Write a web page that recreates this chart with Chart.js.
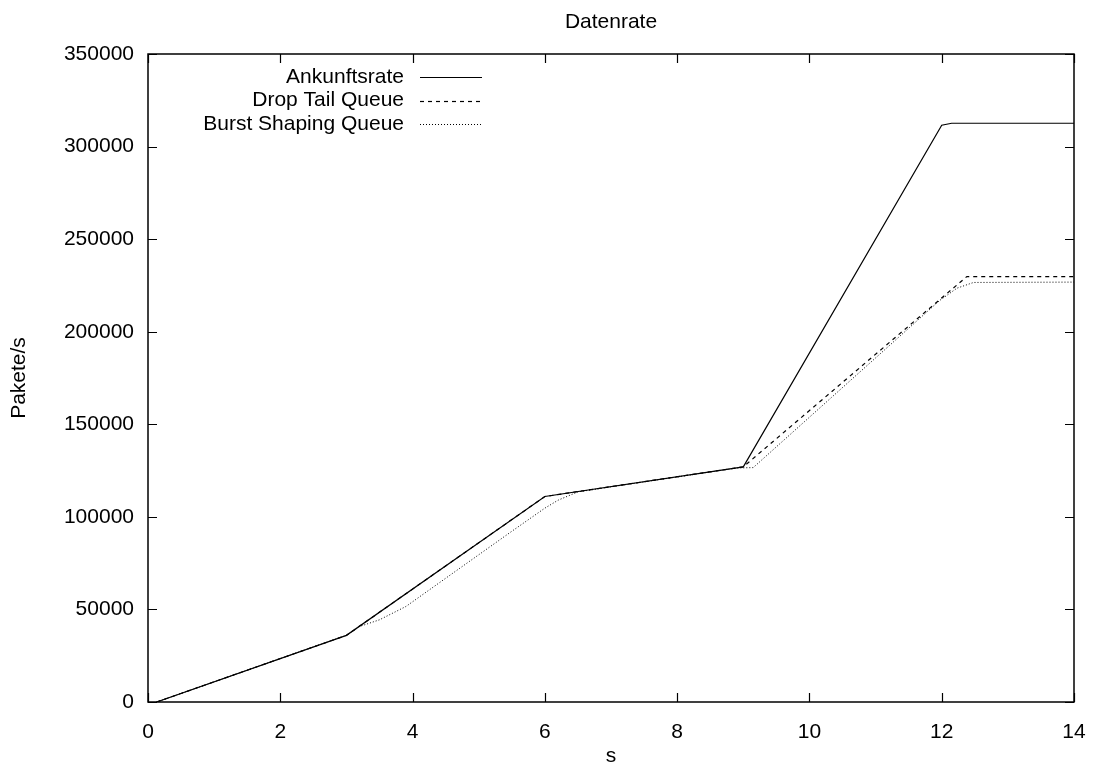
<!DOCTYPE html>
<html>
<head>
<meta charset="utf-8">
<script src="https://cdn.jsdelivr.net/npm/chart.js@4/dist/chart.umd.min.js"></script>
<style>
    body { margin: 0; background: #fff; }
    #wrap { width: 1095px; height: 768px; }
</style>
</head>
<body>
<div id="wrap"><canvas id="chart" width="1095" height="768"></canvas></div>
<script>
// Values (time in s, rate in Pakete/s)
const arrivalTime = [0.13, 3, 6, 9, 12, 12.15, 14];
const arrivalRate = [0, 36000, 111000, 127000, 311500, 312600, 312600];

const dropTailTime = [0.13, 3, 6, 9, 12.38, 14];
const dropTailRate = [0, 36000, 111000, 127000, 229800, 229800];

const burstTime = [0.13, 3, 3.2, 3.5, 3.9, 5.5, 6.0, 6.2, 6.5, 8.9, 9.15, 11.97, 12.23, 12.48, 14];
const burstRate = [0, 36000, 40800, 44400, 51600, 92200, 104700, 109000, 113500, 126400, 126600, 216900, 223500, 226600, 226800];

const seriesNames = ['Ankunftsrate', 'Drop Tail Queue', 'Burst Shaping Queue'];
const xTicks = [0, 2, 4, 6, 8, 10, 12, 14];
const yTicks = [0, 50000, 100000, 150000, 200000, 250000, 300000, 350000];

const FONT = '"Liberation Sans", Arial, Helvetica, sans-serif';
const FONT_SIZE = 21;
const TICK_LEN = 9;

function toPoints(xs, ys) {
    return xs.map((x, i) => ({ x: x, y: ys[i] }));
}

// Gnuplot-like frame: full border with inward ticks on all four sides,
// plus the title and the key in the upper left corner
const gnuplotFrame = {
    id: 'gnuplotFrame',
    afterDraw(chart) {
        const ctx = chart.ctx;
        const a = chart.chartArea;
        const sx = chart.scales.x;
        const sy = chart.scales.y;

        ctx.save();
        ctx.strokeStyle = '#000';
        ctx.lineWidth = 1.5;
        ctx.strokeRect(a.left, a.top, a.right - a.left, a.bottom - a.top);

        ctx.beginPath();
        xTicks.forEach(v => {
            const px = Math.round(sx.getPixelForValue(v)) + 0.5;
            ctx.moveTo(px, a.bottom);
            ctx.lineTo(px, a.bottom - TICK_LEN);
            ctx.moveTo(px, a.top);
            ctx.lineTo(px, a.top + TICK_LEN);
        });
        yTicks.forEach(v => {
            const py = Math.round(sy.getPixelForValue(v)) + 0.5;
            ctx.moveTo(a.left, py);
            ctx.lineTo(a.left + TICK_LEN, py);
            ctx.moveTo(a.right, py);
            ctx.lineTo(a.right - TICK_LEN, py);
        });
        ctx.lineWidth = 1.2;
        ctx.stroke();

        // title
        ctx.fillStyle = '#000';
        ctx.font = FONT_SIZE + 'px ' + FONT;
        ctx.textAlign = 'center';
        ctx.textBaseline = 'middle';
        ctx.fillText('Datenrate', (a.left + a.right) / 2, 22);

        // key
        const textRight = 404;
        const sampleLeft = 420;
        const sampleRight = 482;
        ctx.textAlign = 'right';
        chart.data.datasets.forEach((ds, i) => {
            const rowY = 77 + i * 23.5;
            ctx.fillText(ds.label, textRight, rowY);
            ctx.beginPath();
            ctx.setLineDash(ds.borderDash || []);
            ctx.lineWidth = ds.borderWidth;
            ctx.strokeStyle = ds.borderColor;
            ctx.moveTo(sampleLeft, Math.round(rowY) + 0.5);
            ctx.lineTo(sampleRight, Math.round(rowY) + 0.5);
            ctx.stroke();
        });
        ctx.restore();
    }
};

const ctx = document.getElementById('chart').getContext('2d');

new Chart(ctx, {
    type: 'line',
    data: {
        datasets: [{
            label: seriesNames[0],
            data: toPoints(arrivalTime, arrivalRate),
            borderColor: '#000',
            borderWidth: 1.2,
            borderDash: [],
            pointRadius: 0,
            tension: 0
        }, {
            label: seriesNames[1],
            data: toPoints(dropTailTime, dropTailRate),
            borderColor: '#000',
            borderWidth: 1.2,
            borderDash: [4, 4],
            pointRadius: 0,
            tension: 0
        }, {
            label: seriesNames[2],
            data: toPoints(burstTime, burstRate),
            borderColor: '#000',
            borderWidth: 1,
            borderDash: [1, 2],
            pointRadius: 0,
            tension: 0
        }]
    },
    options: {
        responsive: false,
        animation: false,
        devicePixelRatio: 1,
        layout: {
            padding: { top: 54, right: 21, left: 0, bottom: 0 }
        },
        plugins: {
            legend: { display: false },
            tooltip: { enabled: false }
        },
        scales: {
            x: {
                type: 'linear',
                min: 0,
                max: 14,
                afterBuildTicks: scale => {
                    scale.ticks = xTicks.map(v => ({ value: v }));
                },
                afterFit: scale => {
                    scale.height = 66;
                    scale.paddingLeft = 0;
                    scale.paddingRight = 0;
                },
                ticks: {
                    color: '#000',
                    padding: 18,
                    maxRotation: 0,
                    font: { family: FONT, size: FONT_SIZE },
                    callback: v => String(v)
                },
                grid: { display: false, drawTicks: false },
                border: { display: false },
                title: {
                    display: true,
                    text: 's',
                    color: '#000',
                    padding: 0,
                    font: { family: FONT, size: FONT_SIZE, lineHeight: 1.1 }
                }
            },
            y: {
                type: 'linear',
                min: 0,
                max: 350000,
                afterBuildTicks: scale => {
                    scale.ticks = yTicks.map(v => ({ value: v }));
                },
                afterFit: scale => {
                    scale.width = 148;
                    scale.paddingTop = 0;
                    scale.paddingBottom = 0;
                },
                ticks: {
                    color: '#000',
                    padding: 14,
                    font: { family: FONT, size: FONT_SIZE },
                    callback: v => String(v)
                },
                grid: { display: false, drawTicks: false },
                border: { display: false },
                title: {
                    display: true,
                    text: 'Pakete/s',
                    color: '#000',
                    padding: 8,
                    font: { family: FONT, size: FONT_SIZE, lineHeight: 1.1 }
                }
            }
        }
    },
    plugins: [gnuplotFrame]
});
</script>
</body>
</html>
